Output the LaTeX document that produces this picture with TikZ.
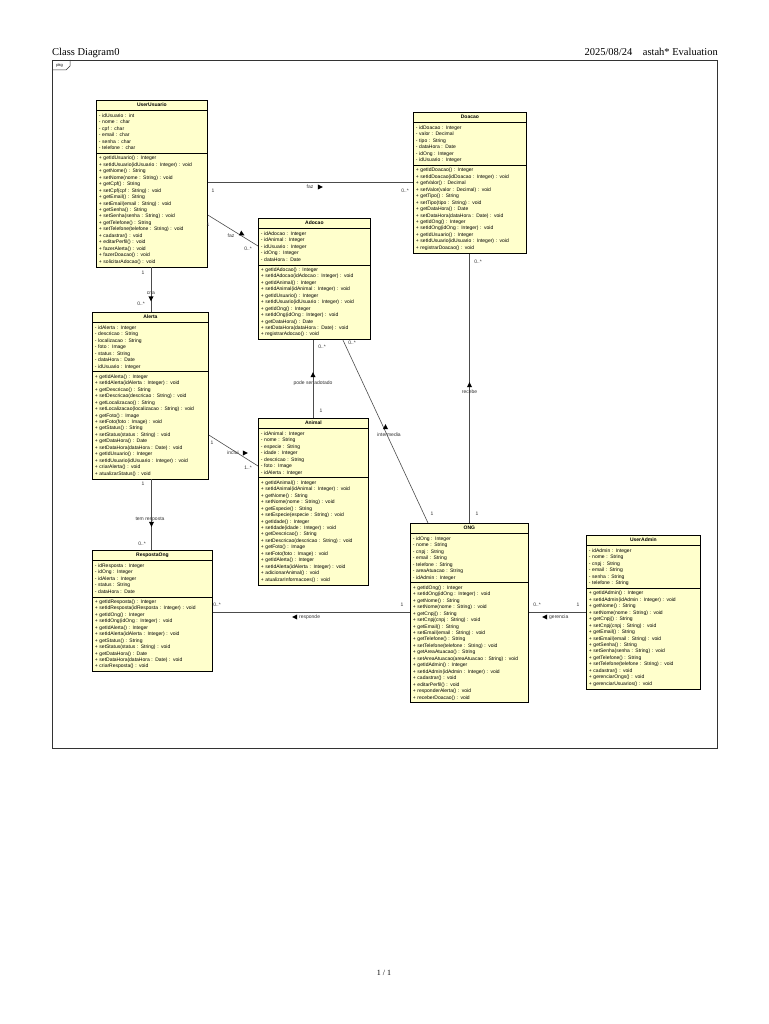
\documentclass[tikz,border=0pt]{standalone}
\usepackage{fontspec}
\setmainfont{Liberation Serif}
\newfontfamily\umlsans{Liberation Sans}
\usetikzlibrary{shapes.multipart}
\newcommand{\ustrut}{\vrule height 4.6pt depth 1.85pt width 0pt}
\newcommand{\umlfont}{\umlsans\fontsize{5}{6.45}\selectfont}
\definecolor{classfill}{HTML}{FFFFCC}
\tikzset{
  umlclass/.style={rectangle split, rectangle split parts=3, draw=black, line width=0.8pt,
    fill=classfill, font=\umlfont, inner xsep=2.5pt, inner ysep=1.55pt, anchor=north west},
  assoc/.style={draw=black!70, line width=0.6pt},
  lbl/.style={font=\umlfont, text=black!80, inner sep=0pt},
  tri/.style={fill=black},
}
\newcommand{\umlbox}[7]{%
  \node[umlclass, text width=#4] (#1) at (#2,#3)
  {\centering\ustrut\textbf{#5}\ustrut\par
   \nodepart{two}\raggedright\ustrut #6\ustrut
   \nodepart{three}\raggedright\ustrut #7\ustrut};}
\newcommand{\dirtri}[3]{\fill[tri, shift={(#1,#2)}, rotate=#3] (2.8,0) -- (-2.2,2.6) -- (-2.2,-2.6) -- cycle;}
\begin{document}
\begin{tikzpicture}[x=1pt, y=-1pt]
\useasboundingbox (0,0) rectangle (768,1024);
\fill[white] (0,0) rectangle (768,1024);

% header / frame
\node[anchor=base west, font=\fontsize{10.5}{12}\selectfont, inner sep=0pt] (hdrl) at (52,56) {Class Diagram0};
\node[anchor=base east, font=\fontsize{10.5}{12}\selectfont, inner sep=0pt] (hdrr) at (718,56) {2025/08/24\quad astah* Evaluation};
\draw[line width=0.6pt, draw=black!80] (52,60) rectangle (717,748);
\draw[line width=0.5pt, draw=black!80] (52,70) -- (66,70) -- (70,66) -- (70,60);
\node[font=\umlsans\fontsize{4}{4.5}\selectfont, inner sep=0pt] (pkg) at (59.5,65.5) {pkg};
\node[font=\fontsize{8}{10}\selectfont, inner sep=0pt] (page) at (384,973) {1 / 1};

% classes
\umlbox{uu}{96}{100}{106pt}{UserUsuario}{%
- idUsuario : int\\- nome : char\\- cpf : char\\- email : char\\- senha : char\\- telefone : char}{%
+ getIdUsuario() : Integer\\+ setIdUsuario(idUsuario : Integer) : void\\+ getNome() : String\\+ setNome(nome : String) : void\\+ getCpf() : String\\+ setCpf(cpf : String) : void\\+ getEmail() : String\\+ setEmail(email : String) : void\\+ getSenha() : String\\+ setSenha(senha : String) : void\\+ getTelefone() : String\\+ setTelefone(telefone : String) : void\\+ cadastrar() : void\\+ editarPerfil() : void\\+ fazerAlerta() : void\\+ fazerDoacao() : void\\+ solicitarAdocao() : void}

\umlbox{doacao}{413}{112}{108pt}{Doacao}{%
- idDoacao : Integer\\- valor : Decimal\\- tipo : String\\- dataHora : Date\\- idOng : Integer\\- idUsuario : Integer}{%
+ getIdDoacao() : Integer\\+ setIdDoacao(idDoacao : Integer) : void\\+ getValor() : Decimal\\+ setValor(valor : Decimal) : void\\+ getTipo() : String\\+ setTipo(tipo : String) : void\\+ getDataHora() : Date\\+ setDataHora(dataHora : Date) : void\\+ getIdOng() : Integer\\+ setIdOng(idOng : Integer) : void\\+ getIdUsuario() : Integer\\+ setIdUsuario(idUsuario : Integer) : void\\+ registrarDoacao() : void}

\umlbox{adocao}{258}{218}{107pt}{Adocao}{%
- idAdocao : Integer\\- idAnimal : Integer\\- idUsuario : Integer\\- idOng : Integer\\- dataHora : Date}{%
+ getIdAdocao() : Integer\\+ setIdAdocao(idAdocao : Integer) : void\\+ getIdAnimal() : Integer\\+ setIdAnimal(idAnimal : Integer) : void\\+ getIdUsuario() : Integer\\+ setIdUsuario(idUsuario : Integer) : void\\+ getIdOng() : Integer\\+ setIdOng(idOng : Integer) : void\\+ getDataHora() : Date\\+ setDataHora(dataHora : Date) : void\\+ registrarAdocao() : void}

\umlbox{alerta}{92}{312}{111pt}{Alerta}{%
- idAlerta : Integer\\- descricao : String\\- localizacao : String\\- foto : Image\\- status : String\\- dataHora : Date\\- idUsuario : Integer}{%
+ getIdAlerta() : Integer\\+ setIdAlerta(idAlerta : Integer) : void\\+ getDescricao() : String\\+ setDescricao(descricao : String) : void\\+ getLocalizacao() : String\\+ setLocalizacao(localizacao : String) : void\\+ getFoto() : Image\\+ setFoto(foto : Image) : void\\+ getStatus() : String\\+ setStatus(status : String) : void\\+ getDataHora() : Date\\+ setDataHora(dataHora : Date) : void\\+ getIdUsuario() : Integer\\+ setIdUsuario(idUsuario : Integer) : void\\+ criarAlerta() : void\\+ atualizarStatus() : void}

\umlbox{animal}{258}{418}{105pt}{Animal}{%
- idAnimal : Integer\\- nome : String\\- especie : String\\- idade : Integer\\- descricao : String\\- foto : Image\\- idAlerta : Integer}{%
+ getIdAnimal() : Integer\\+ setIdAnimal(idAnimal : Integer) : void\\+ getNome() : String\\+ setNome(nome : String) : void\\+ getEspecie() : String\\+ setEspecie(especie : String) : void\\+ getIdade() : Integer\\+ setIdade(idade : Integer) : void\\+ getDescricao() : String\\+ setDescricao(descricao : String) : void\\+ getFoto() : Image\\+ setFoto(foto : Image) : void\\+ getIdAlerta() : Integer\\+ setIdAlerta(idAlerta : Integer) : void\\+ adicionarAnimal() : void\\+ atualizarInformacoes() : void}

\umlbox{resp}{92}{550}{115pt}{RespostaOng}{%
- idResposta : Integer\\- idOng : Integer\\- idAlerta : Integer\\- status : String\\- dataHora : Date}{%
+ getIdResposta() : Integer\\+ setIdResposta(idResposta : Integer) : void\\+ getIdOng() : Integer\\+ setIdOng(idOng : Integer) : void\\+ getIdAlerta() : Integer\\+ setIdAlerta(idAlerta : Integer) : void\\+ getStatus() : String\\+ setStatus(status : String) : void\\+ getDataHora() : Date\\+ setDataHora(dataHora : Date) : void\\+ criarResposta() : void}

\umlbox{ong}{410}{523}{113pt}{ONG}{%
- idOng : Integer\\- nome : String\\- cnpj : String\\- email : String\\- telefone : String\\- areaAtuacao : String\\- idAdmin : Integer}{%
+ getIdOng() : Integer\\+ setIdOng(idOng : Integer) : void\\+ getNome() : String\\+ setNome(nome : String) : void\\+ getCnpj() : String\\+ setCnpj(cnpj : String) : void\\+ getEmail() : String\\+ setEmail(email : String) : void\\+ getTelefone() : String\\+ setTelefone(telefone : String) : void\\+ getAreaAtuacao() : String\\+ setAreaAtuacao(areaAtuacao : String) : void\\+ getIdAdmin() : Integer\\+ setIdAdmin(idAdmin : Integer) : void\\+ cadastrar() : void\\+ editarPerfil() : void\\+ responderAlerta() : void\\+ receberDoacao() : void}

\umlbox{admin}{586}{535}{109pt}{UserAdmin}{%
- idAdmin : Integer\\- nome : String\\- cnpj : String\\- email : String\\- senha : String\\- telefone : String}{%
+ getIdAdmin() : Integer\\+ setIdAdmin(idAdmin : Integer) : void\\+ getNome() : String\\+ setNome(nome : String) : void\\+ getCnpj() : String\\+ setCnpj(cnpj : String) : void\\+ getEmail() : String\\+ setEmail(email : String) : void\\+ getSenha() : String\\+ setSenha(senha : String) : void\\+ getTelefone() : String\\+ setTelefone(telefone : String) : void\\+ cadastrar() : void\\+ gerenciarOngs() : void\\+ gerenciarUsuarios() : void}

% helper coordinates
\coordinate (y182) at (0,182);
\coordinate (y215) at (0,215);
\coordinate (y246) at (0,246);
\coordinate (y435) at (0,435);
\coordinate (y466) at (0,466);
\coordinate (y612) at (0,612);
\coordinate (x151) at (151,0);
\coordinate (x313) at (313,0);
\coordinate (x343) at (343,0);
\coordinate (x428) at (428,0);
\coordinate (x469) at (469.5,0);

% UserUsuario -- Doacao
\draw[assoc] (uu.east |- y182) -- (doacao.west |- y182);
\node[lbl] (faz1) at (310,187) {faz};
\dirtri{320}{187}{0}
\node[lbl] (m1a) at (213,191) {1};
\node[lbl] (m1b) at (405,191) {0..*};

% UserUsuario -- Adocao
\draw[assoc] (uu.east |- y215) -- (adocao.west |- y246);
\node[lbl] (faz2) at (231,236) {faz};
\dirtri{242}{234}{-28}
\node[lbl] (m2a) at (208,225) {1};
\node[lbl] (m2b) at (248,249) {0..*};

% UserUsuario -- Alerta
\draw[assoc] (uu.south -| x151) -- (alerta.north -| x151);
\node[lbl] (cria) at (151,293) {cria};
\dirtri{151}{298.5}{-90}
\node[lbl] (m3a) at (143,273) {1};
\node[lbl] (m3b) at (141,304) {0..*};

% Adocao -- Animal
\draw[assoc] (adocao.south -| x313) -- (animal.north -| x313);
\dirtri{313}{375}{90}
\node[lbl] (pode) at (313,383) {pode ser adotado};
\node[lbl] (m4a) at (322,347) {0..*};
\node[lbl] (m4b) at (321,411) {1};

% Adocao -- ONG
\draw[assoc] (adocao.south -| x343) -- (ong.north -| x428);
\dirtri{385.5}{427}{90}
\node[lbl] (interm) at (389,435) {intermedia};
\node[lbl] (m5a) at (352,343) {0..*};
\node[lbl] (m5b) at (432,514) {1};

% Alerta -- Animal
\draw[assoc] (alerta.east |- y435) -- (animal.west |- y466);
\node[lbl] (inclui) at (233,453) {inclui};
\dirtri{245}{453}{0}
\node[lbl] (m6a) at (212,443) {1};
\node[lbl] (m6b) at (248,468) {1..*};

% Alerta -- RespostaOng
\draw[assoc] (alerta.south -| x151) -- (resp.north -| x151);
\node[lbl] (temresp) at (150,519) {tem resposta};
\dirtri{151.5}{524}{-90}
\node[lbl] (m7a) at (143,484) {1};
\node[lbl] (m7b) at (142,544) {0..*};

% RespostaOng -- ONG
\draw[assoc] (resp.east |- y612) -- (ong.west |- y612);
\dirtri{295}{617}{180}
\node[lbl, anchor=west] (responde) at (299,617) {responde};
\node[lbl] (m8a) at (217,605) {0..*};
\node[lbl] (m8b) at (402,605) {1};

% ONG -- UserAdmin
\draw[assoc] (ong.east |- y612) -- (admin.west |- y612);
\dirtri{545}{617}{180}
\node[lbl, anchor=west] (gerencia) at (549,617) {gerencia};
\node[lbl] (m9a) at (537,605) {0..*};
\node[lbl] (m9b) at (578,605) {1};

% Doacao -- ONG
\draw[assoc] (doacao.south -| x469) -- (ong.north -| x469);
\dirtri{469.5}{385}{90}
\node[lbl] (recebe) at (469.5,392) {recebe};
\node[lbl] (m10a) at (478,262) {0..*};
\node[lbl] (m10b) at (477,514) {1};
\end{tikzpicture}
\end{document}
